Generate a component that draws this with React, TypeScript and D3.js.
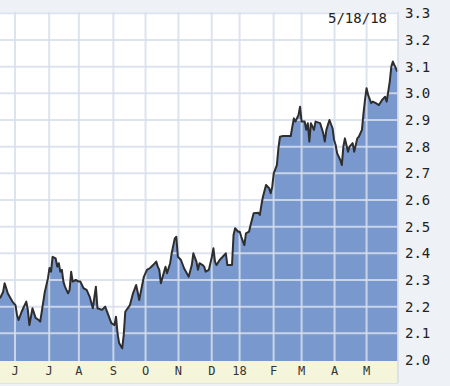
import React from "react";
import * as d3 from "d3";

// trading-day index (0 = mid May 2017) and 10-yr yield (%)
const days = [0,2,3,4,5,8,10,11,12,14,15,17,18,19,20,21,23,25,26,28,29,31,32,33,34,36,37,38,39,40,41,42,44,45,46,47,49,51,52,54,56,58,60,62,63,66,68,70,72,74,75,76,77,79,80,81,84,86,88,89,90,93,95,97,99,101,102,103,104,107,108,110,111,113,114,115,117,119,122,124,125,127,128,129,131,132,133,135,137,138,139,140,142,144,146,147,150,151,152,154,155,156,158,159,161,162,164,167,168,169,170,172,174,175,176,177,179,180,181,183,188,189,190,191,193,194,195,197,198,199,200,201,203,204,207,208,209,210,211,213,215,216,217,218,220,221,222,223,225,226,228,229,231,232,234,235,236,237,238,240,241,243,245,247,249,250,251,252,253,254,255,257];
const yields = [2.231,2.255,2.288,2.270,2.250,2.219,2.206,2.169,2.150,2.181,2.194,2.219,2.188,2.131,2.162,2.194,2.158,2.150,2.144,2.219,2.256,2.306,2.345,2.331,2.387,2.381,2.350,2.363,2.331,2.338,2.294,2.275,2.250,2.263,2.331,2.294,2.300,2.294,2.294,2.269,2.263,2.237,2.194,2.275,2.194,2.188,2.200,2.169,2.138,2.131,2.162,2.100,2.064,2.044,2.094,2.181,2.206,2.250,2.281,2.255,2.225,2.312,2.338,2.345,2.356,2.369,2.350,2.338,2.288,2.350,2.325,2.363,2.400,2.456,2.462,2.387,2.375,2.344,2.312,2.356,2.400,2.369,2.338,2.363,2.356,2.350,2.331,2.338,2.387,2.419,2.369,2.356,2.375,2.387,2.400,2.356,2.356,2.469,2.494,2.481,2.481,2.462,2.431,2.475,2.481,2.506,2.550,2.552,2.544,2.581,2.612,2.656,2.644,2.625,2.650,2.700,2.731,2.794,2.837,2.840,2.840,2.875,2.906,2.894,2.919,2.950,2.894,2.894,2.863,2.888,2.819,2.888,2.863,2.894,2.888,2.869,2.850,2.819,2.863,2.900,2.869,2.825,2.806,2.775,2.750,2.731,2.800,2.831,2.781,2.800,2.813,2.781,2.831,2.837,2.863,2.925,2.975,3.019,2.994,2.963,2.969,2.963,2.956,2.975,2.987,2.969,3.006,3.044,3.100,3.119,3.106,3.081];

const monthLabels = ["J","J","A","S","O","N","D","18","F","M","A","M"];
const monthDays = [9.7,31.8,51,73.3,94.1,115.4,136.9,154.9,176.9,195,216.3,237];
const yTicks = [2.0,2.1,2.2,2.3,2.4,2.5,2.6,2.7,2.8,2.9,3.0,3.1,3.2,3.3];
const dateLabel = "5/18/18";

const W = 450, H = 386;
const plotL = 0, plotR = 398, plotT = 12, plotB = 361;

export default function App() {
  const x = d3.scaleLinear().domain([0, 257]).range([plotL, plotR - 0.5]);
  const y = d3.scaleLinear().domain([2.0, 3.3]).range([360, 13.3]);
  const pts = days.map((d, i) => [d, yields[i]] as [number, number]);
  const area = d3.area<[number, number]>().x(d => x(d[0])).y0(plotB).y1(d => y(d[1]))(pts) || "";
  const line = d3.line<[number, number]>().x(d => x(d[0])).y(d => y(d[1]))(pts) || "";
  const mono = "'DejaVu Sans Mono', 'Liberation Mono', monospace";
  return (
    <svg width={W} height={H} style={{ position: "absolute", left: 0, top: 0 }}>
      <rect x={0} y={0} width={W} height={H} fill="#eef1f5" />
      <rect x={plotL} y={plotT} width={plotR - plotL} height={plotB - plotT} fill="#ffffff" />
      <path d={area} fill="#7999ce" />
      <g stroke="rgb(215,222,236)" strokeOpacity={0.85} strokeWidth={2}>
        {yTicks.filter(t => t > 2.0).map(t => (
          <line key={t} x1={plotL} x2={plotR} y1={y(t)} y2={y(t)} />
        ))}
        {monthDays.map((d, i) => (
          <line key={i} x1={x(d)} x2={x(d)} y1={plotT} y2={plotB} />
        ))}
      </g>
      <path d={line} fill="none" stroke="#2e2e2e" strokeWidth={2} strokeLinejoin="round" />
      <rect x={plotL} y={plotB} width={plotR - plotL} height={22} fill="#f5f5dc" />
      <line x1={plotR} x2={plotR} y1={plotT} y2={plotB + 22} stroke="#d5dae6" strokeWidth={1.5} />
      <line x1={plotL} x2={plotR} y1={plotB + 22.5} y2={plotB + 22.5} stroke="#dfe2e8" strokeWidth={1} />
      <g fontFamily={mono} fontSize={12} fill="#333" textAnchor="middle">
        {monthLabels.map((m, i) => (
          <text key={i} x={x(monthDays[i])} y={375}>{m}</text>
        ))}
      </g>
      <g fontFamily={mono} fontSize={14} fill="#222">
        {yTicks.map(t => (
          <text key={t} x={405} y={y(t)} dy="0.36em">{t.toFixed(1)}</text>
        ))}
        <text x={387} y={18} dy="0.36em" textAnchor="end">{dateLabel}</text>
      </g>
    </svg>
  );
}
